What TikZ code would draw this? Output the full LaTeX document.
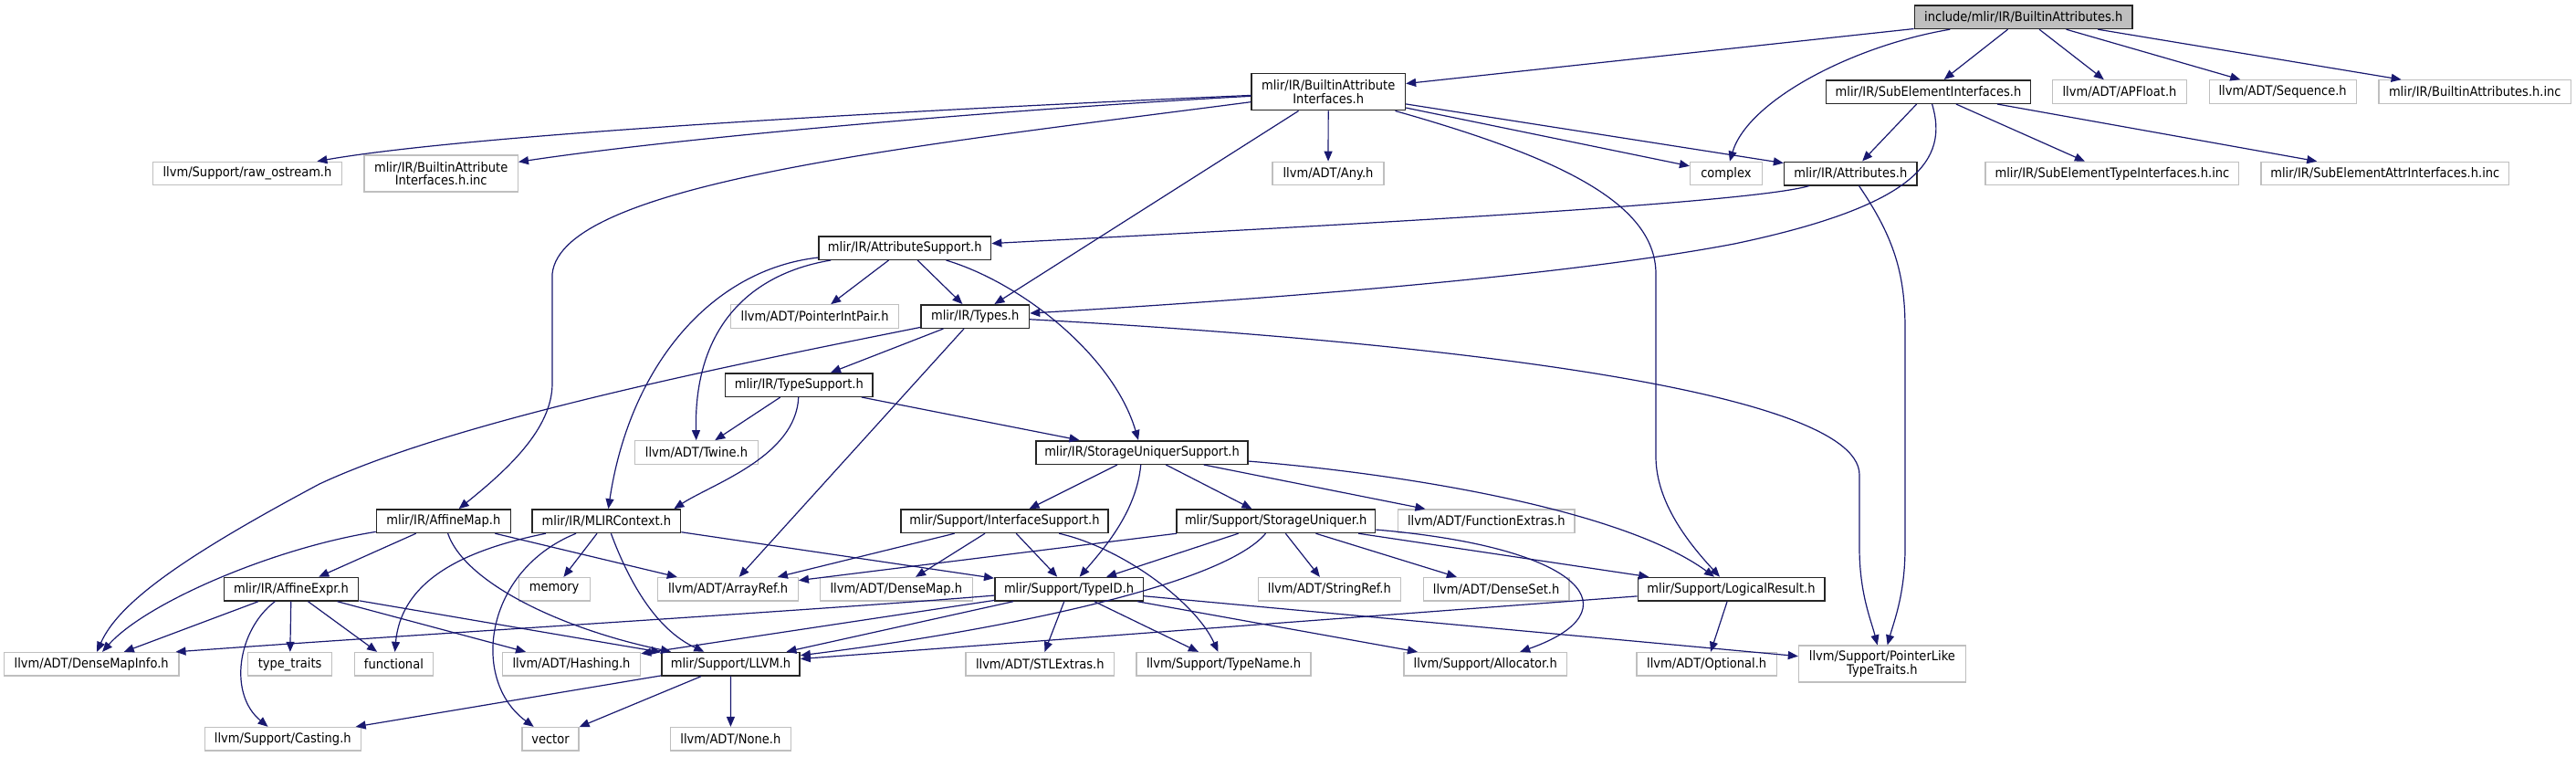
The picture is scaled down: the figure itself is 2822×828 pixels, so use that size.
\documentclass[tikz,border=0pt]{standalone}
\usepackage{fontspec}
\setmainfont{DejaVu Sans}[FakeStretch=0.9]
\usepackage{xcolor}
\usepackage{tikz}
\usetikzlibrary{arrows.meta}
\definecolor{depblue}{HTML}{191970}
\definecolor{extgray}{HTML}{BFBFBF}
\definecolor{rootgray}{HTML}{BFBFBF}

\begin{document}
\begin{tikzpicture}[x=1pt, y=-1pt,
  every node/.style={font=\fontsize{14.5}{14.5}\selectfont, inner sep=0pt, minimum height=25.5pt, fill=white, align=center},
  doc/.style={draw=black!85, line width=1.5pt},
  ext/.style={draw=extgray, line width=1.2pt},
  rootbox/.style={draw=black!85, fill=rootgray, line width=1.5pt},
  tall/.style={minimum height=40pt},
  dep/.style={draw=depblue, line width=1.2pt, -{Triangle[length=11pt,width=9pt]}}]
  \fill[white] (0,0) rectangle (2822,828);
  \useasboundingbox (0,0) rectangle (2822,828);

  \node[rootbox, minimum width=238.6pt] (root) at (2216.7,18.7) {include/mlir/IR/BuiltinAttributes.h};
  \node[doc, tall, minimum width=168.4pt] (bai) at (1455.2,100.7) {mlir/IR/BuiltinAttribute\\Interfaces.h};
  \node[doc, minimum width=224pt] (sei) at (2112.5,100.5) {mlir/IR/SubElementInterfaces.h};
  \node[ext, minimum width=146.4pt] (apfloat) at (2322,100.5) {llvm/ADT/APFloat.h};
  \node[ext, minimum width=161pt] (seq) at (2500.6,100.5) {llvm/ADT/Sequence.h};
  \node[ext, minimum width=210.7pt] (biinc) at (2711.3,100.5) {mlir/IR/BuiltinAttributes.h.inc};
  \node[ext, minimum width=207pt] (raw) at (271,190) {llvm/Support/raw\_ostream.h};
  \node[ext, tall, minimum width=168.4pt] (baiinc) at (483.2,190) {mlir/IR/BuiltinAttribute\\Interfaces.h.inc};
  \node[ext, minimum width=122pt] (any) at (1455,190) {llvm/ADT/Any.h};
  \node[ext, minimum width=78.8pt] (cplx) at (1890.9,190) {complex};
  \node[doc, minimum width=145.4pt] (attr) at (2027.3,190) {mlir/IR/Attributes.h};
  \node[ext, minimum width=277.8pt] (seti) at (2313.9,190) {mlir/IR/SubElementTypeInterfaces.h.inc};
  \node[ext, minimum width=271.7pt] (seai) at (2612.8,190) {mlir/IR/SubElementAttrInterfaces.h.inc};
  \node[doc, minimum width=188.6pt] (as) at (991.3,271.5) {mlir/IR/AttributeSupport.h};
  \node[ext, minimum width=184pt] (pip) at (892.6,346.5) {llvm/ADT/PointerIntPair.h};
  \node[doc, minimum width=118.5pt] (types) at (1068.2,346.5) {mlir/IR/Types.h};
  \node[doc, minimum width=161.2pt] (tsup) at (875.3,421.5) {mlir/IR/TypeSupport.h};
  \node[ext, minimum width=134.6pt] (twine) at (763,495.5) {llvm/ADT/Twine.h};
  \node[doc, minimum width=232pt] (sus) at (1251,495.5) {mlir/IR/StorageUniquerSupport.h};
  \node[doc, minimum width=146.8pt] (am) at (485.9,570.7) {mlir/IR/AffineMap.h};
  \node[doc, minimum width=162.4pt] (mc) at (664.4,570.7) {mlir/IR/MLIRContext.h};
  \node[doc, minimum width=227pt] (isup) at (1100.5,570.7) {mlir/Support/InterfaceSupport.h};
  \node[doc, minimum width=217.9pt] (su) at (1397.7,570.7) {mlir/Support/StorageUniquer.h};
  \node[ext, minimum width=193.2pt] (fe) at (1628.4,570.7) {llvm/ADT/FunctionExtras.h};
  \node[doc, minimum width=147.3pt] (ae) at (319,645.2) {mlir/IR/AffineExpr.h};
  \node[ext, minimum width=77.9pt] (mem) at (607.2,645.2) {memory};
  \node[ext, minimum width=153.5pt] (aref) at (797.6,645.2) {llvm/ADT/ArrayRef.h};
  \node[ext, minimum width=167pt] (dmap) at (981.8,645.2) {llvm/ADT/DenseMap.h};
  \node[doc, minimum width=162.5pt] (tid) at (1171,645.2) {mlir/Support/TypeID.h};
  \node[ext, minimum width=156.2pt] (sref) at (1456.4,645.2) {llvm/ADT/StringRef.h};
  \node[ext, minimum width=159.9pt] (dset) at (1639.1,645.2) {llvm/ADT/DenseSet.h};
  \node[doc, minimum width=204.5pt] (lr) at (1896.5,645.2) {mlir/Support/LogicalResult.h};
  \node[ext, minimum width=191.4pt] (dmi) at (100.2,727.2) {llvm/ADT/DenseMapInfo.h};
  \node[ext, minimum width=92.3pt] (tt) at (317.6,727.2) {type\_traits};
  \node[ext, minimum width=86.4pt] (func) at (431.4,727.2) {functional};
  \node[ext, minimum width=151.3pt] (hash) at (626,727.2) {llvm/ADT/Hashing.h};
  \node[doc, minimum width=151.3pt] (llvm) at (800.5,727.2) {mlir/Support/LLVM.h};
  \node[ext, minimum width=162.7pt] (stl) at (1139.3,727.2) {llvm/ADT/STLExtras.h};
  \node[ext, minimum width=190.9pt] (tname) at (1340.5,727.2) {llvm/Support/TypeName.h};
  \node[ext, minimum width=178.4pt] (alloc) at (1627.2,727.2) {llvm/Support/Allocator.h};
  \node[ext, minimum width=153.5pt] (opt) at (1869.7,727.2) {llvm/ADT/Optional.h};
  \node[ext, tall, minimum width=183pt] (plt) at (2061.9,727) {llvm/Support/PointerLike\\TypeTraits.h};
  \node[ext, minimum width=171.1pt] (cast) at (309.8,809.2) {llvm/Support/Casting.h};
  \node[ext, minimum width=62.1pt] (vec) at (603,809.2) {vector};
  \node[ext, minimum width=131.9pt] (none) at (800.4,809.2) {llvm/ADT/None.h};

  \draw[dep] (root) -- (bai);
  \draw[dep] (root) .. controls (2030,50) and (1915,110) .. (cplx);
  \draw[dep] (root) -- (sei);
  \draw[dep] (root) -- (apfloat);
  \draw[dep] (root) -- (seq);
  \draw[dep] (root) -- (biinc);

  \draw[dep] (bai) .. controls (900,125) and (500,150) .. (raw);
  \draw[dep] (bai) .. controls (1100,120) and (750,150) .. (baiinc);
  \draw[dep] (bai) .. controls (1000,160) and (615,200) .. (605,300) -- (605,420) .. controls (605,470) and (555,515) .. (am);
  \draw[dep] (bai) -- (any);
  \draw[dep] (bai) -- (types);
  \draw[dep] (bai) -- (cplx);
  \draw[dep] (bai) -- (attr);
  \draw[dep] (bai) .. controls (1700,170) and (1814,220) .. (1814,300) -- (1814,500) .. controls (1814,550) and (1850,595) .. (lr);

  \draw[dep] (sei) -- (attr);
  \draw[dep] (sei) .. controls (2135,175) and (2100,225) .. (1900,267) .. controls (1700,305) and (1350,330) .. (types);
  \draw[dep] (sei) -- (seti);
  \draw[dep] (sei) -- (seai);

  \draw[dep] (attr) .. controls (1920,222) and (1500,245) .. (as);
  \draw[dep] (attr) .. controls (2075,260) and (2087,300) .. (2087,360) -- (2087,600) .. controls (2087,650) and (2075,680) .. (plt);

  \draw[dep] (as) -- (pip);
  \draw[dep] (as) -- (types);
  \draw[dep] (as) .. controls (1120,310) and (1220,390) .. (sus);
  \draw[dep] (as) .. controls (820,300) and (760,360) .. (twine);
  \draw[dep] (as) .. controls (780,295) and (690,400) .. (mc);

  \draw[dep] (types) -- (tsup);
  \draw[dep] (types) .. controls (800,400) and (500,460) .. (350,530) .. controls (200,610) and (130,660) .. (dmi);
  \draw[dep] (types) -- (aref);
  \draw[dep] (types) .. controls (1500,370) and (2037,420) .. (2037,520) -- (2037,600) .. controls (2037,650) and (2050,680) .. (plt);

  \draw[dep] (tsup) -- (twine);
  \draw[dep] (tsup) .. controls (872,500) and (780,530) .. ([xshift=-8pt]mc.north east);
  \draw[dep] (tsup) -- (sus);

  \draw[dep] (sus) -- (isup);
  \draw[dep] (sus) .. controls (1245,560) and (1210,600) .. (tid);
  \draw[dep] (sus) -- (su);
  \draw[dep] (sus) -- (fe);
  \draw[dep] (sus) .. controls (1550,520) and (1780,560) .. (lr);

  \draw[dep] (mc) .. controls (520,600) and (440,630) .. (func);
  \draw[dep] (mc) -- (mem);
  \draw[dep] (mc) .. controls (530,625) and (515,745) .. (vec);
  \draw[dep] (mc) .. controls (690,640) and (720,690) .. (llvm);
  \draw[dep] (mc) -- (tid);

  \draw[dep] (am) .. controls (300,600) and (160,660) .. (dmi);
  \draw[dep] (am) -- (ae);
  \draw[dep] (am) .. controls (510,640) and (620,690) .. (llvm);
  \draw[dep] (am) -- (aref);

  \draw[dep] (ae) -- (dmi);
  \draw[dep] (ae) .. controls (260,690) and (250,760) .. (cast);
  \draw[dep] (ae) -- (tt);
  \draw[dep] (ae) -- (func);
  \draw[dep] (ae) -- (hash);
  \draw[dep] (ae) -- (llvm);

  \draw[dep] (tid) .. controls (900,668) and (450,695) .. ([xshift=-4pt]dmi.north east);
  \draw[dep] (tid) -- (llvm);
  \draw[dep] (tid) -- (hash);
  \draw[dep] (tid) -- (stl);
  \draw[dep] (tid) -- (tname);
  \draw[dep] (tid) -- (alloc);
  \draw[dep] (tid) -- (plt);

  \draw[dep] (isup) -- (aref);
  \draw[dep] (isup) -- (dmap);
  \draw[dep] (isup) -- (tid);
  \draw[dep] (isup) .. controls (1230,600) and (1310,660) .. (tname);

  \draw[dep] (su) -- (aref);
  \draw[dep] (su) -- (tid);
  \draw[dep] (su) .. controls (1340,640) and (1100,690) .. (llvm);
  \draw[dep] (su) -- (sref);
  \draw[dep] (su) -- (dset);
  \draw[dep] (su) -- (lr);
  \draw[dep] (su) .. controls (1740,600) and (1790,670) .. (alloc);

  \draw[dep] (lr) -- (llvm);
  \draw[dep] (lr) -- (opt);

  \draw[dep] (llvm) -- (none);
  \draw[dep] (llvm) -- (cast);
  \draw[dep] (llvm) -- (vec);
\end{tikzpicture}
\end{document}
